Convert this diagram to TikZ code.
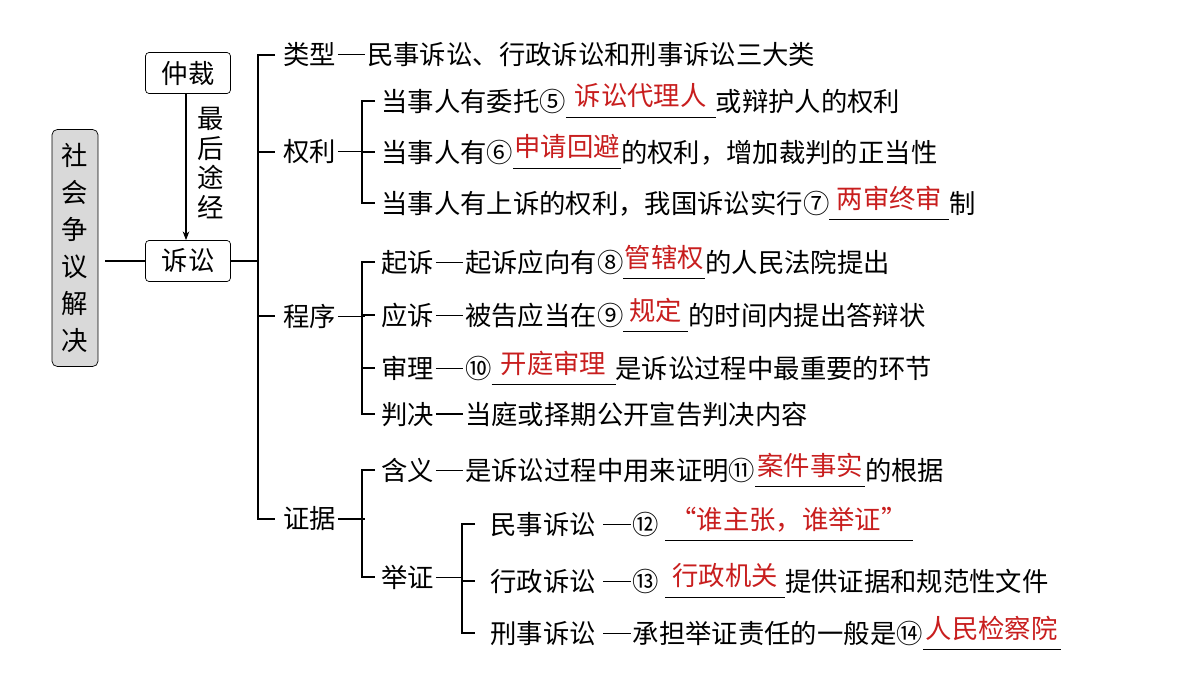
\documentclass[tikz,border=0pt]{standalone}
\usepackage{fontspec}
\setmainfont{Noto Sans CJK SC}
\usetikzlibrary{arrows.meta}
\newcommand\ans[2]{\rlap{\rule[-4pt]{#1}{0.6pt}}\makebox[#1]{\raisebox{3pt}{\color{ansred}#2}}}
\newcommand\dd{\kern1pt\rule[0.36em]{1.05em}{0.6pt}\kern1pt}
\definecolor{ansred}{RGB}{200,30,30}
\begin{document}
\begin{tikzpicture}[x=0.02cm,y=-0.02cm,
  every node/.style={font=\fontsize{15pt}{18pt}\selectfont,inner sep=0pt},
  txt/.style={anchor=west},
  box/.style={draw,rounded corners=2pt,minimum width=1.7cm,minimum height=0.82cm,inner sep=0pt},
  ln/.style={line width=0.6pt}]
\useasboundingbox (0,0) rectangle (1200,676);
\node[draw,fill=gray!30,rounded corners=3pt,minimum width=0.92cm,minimum height=4.74cm,align=center,font=\fontsize{15pt}{21pt}\selectfont] (soc) at (75,248) {社\\会\\争\\议\\解\\决};
\node[box] (zc) at (188,73) {仲裁};
\node[box] (ss) at (188,261) {诉讼};
\draw[ln,-{Stealth[length=5pt]}] (zc.south -| 186,0) -- (ss.north -| 186,0);
\node[align=center,font=\fontsize{15pt}{17pt}\selectfont] (zhj) at (211,163) {最\\后\\途\\经};
\draw[ln] (105,261) coordinate (a0) -- (ss.west);
\coordinate (b1) at (258,261);
\draw[ln] (ss.east) -- (b1);
\draw[ln] (275,55) -- (258,55) -- (258,519) -- (275,519);
\draw[ln] (258,152) -- (275,152);
\draw[ln] (258,316) -- (275,316);
\node[txt] (lx) at (283,55) {类型\dd 民事诉讼、行政诉讼和刑事诉讼三大类};
\node[txt] (ql) at (283,152) {权利\dd};
\node[txt] (cx) at (283,316) {程序\dd};
\node[txt] (zj) at (283,519) {证据\dd};
\draw[ln] (375,101) -- (362,101) -- (362,203) -- (375,203);
\draw[ln] (362,152) -- (375,152);
\node[txt] (r1) at (381,101) {当事人有委托⑤\ans{3cm}{诉讼代理人}或辩护人的权利};
\node[txt] (r2) at (381,152) {当事人有⑥\ans{2.16cm}{申请回避}的权利，增加裁判的正当性};
\node[txt] (r3) at (381,203) {当事人有上诉的权利，我国诉讼实行⑦\ans{2.4cm}{两审终审}制};
\draw[ln] (375,262) -- (362,262) -- (362,414) -- (375,414);
\draw[ln] (362,315) -- (375,315);
\draw[ln] (362,368) -- (375,368);
\node[txt] (p1) at (381,262) {起诉\dd 起诉应向有⑧\ans{1.64cm}{管辖权}的人民法院提出};
\node[txt] (p2) at (381,315) {应诉\dd 被告应当在⑨\ans{1.3cm}{规定}的时间内提出答辩状};
\node[txt] (p3) at (381,368) {审理\dd ⑩\ans{2.48cm}{开庭审理}是诉讼过程中最重要的环节};
\node[txt] (p4) at (381,414) {判决\dd 当庭或择期公开宣告判决内容};
\draw[ln] (375,470) -- (362,470) -- (362,577) -- (375,577);
\node[txt] (e1) at (381,470) {含义\dd 是诉讼过程中用来证明⑪\ans{2.2cm}{案件事实}的根据};
\node[txt] (e2) at (381,577) {举证\dd};
\draw[ln] (475,524) -- (462,524) -- (462,633) -- (475,633);
\draw[ln] (462,581) -- (475,581);
\node[txt] (f1) at (490,524) {民事诉讼 \dd ⑫ \ans{4.96cm}{“谁主张，谁举证”}};
\node[txt] (f2) at (490,581) {行政诉讼 \dd ⑬ \ans{2.4cm}{行政机关}提供证据和规范性文件};
\node[txt] (f3) at (490,633) {刑事诉讼 \dd 承担举证责任的一般是⑭\ans{2.76cm}{人民检察院}};
\end{tikzpicture}
\end{document}
